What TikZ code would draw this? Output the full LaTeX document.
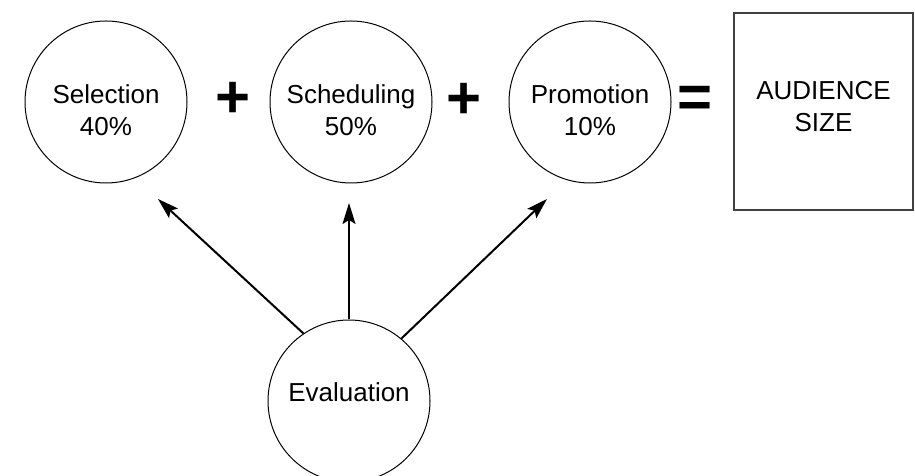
\documentclass[tikz,border=0pt]{standalone}
\usepackage{fontspec}
\setmainfont{Liberation Sans}
\usetikzlibrary{arrows.meta}

\begin{document}
\begin{tikzpicture}[x=1pt,y=1pt]
\tikzstyle{every node}=[font=\fontsize{26}{32}\selectfont, align=center]
\tikzstyle{part}=[circle, draw, line width=1pt, minimum size=162pt, inner sep=0pt]
\tikzstyle{sign}=[font=\fontsize{60}{60}\selectfont\bfseries, inner sep=0pt]
\tikzstyle{push}=[line width=2pt, -{Stealth[length=21pt,width=13pt,inset=4pt]}]
\useasboundingbox (0,0) rectangle (915,476);
\draw (106,374) node (sel) [part, label={[yshift=-8pt]center:Selection\\40\%}] {};
\draw (351,374) node (sch) [part, label={[yshift=-8pt]center:Scheduling\\50\%}] {};
\draw (590,374) node (pro) [part, label={[yshift=-8pt]center:Promotion\\10\%}] {};
\draw (349,75) node (eva) [part, label={[yshift=9pt]center:Evaluation}] {};
\draw (823.5,364.5) node (size) [draw=black!75, line width=2pt, minimum width=179pt, minimum height=197pt,
  label={[yshift=5pt]center:AUDIENCE\\SIZE}] {};
\draw (233,376) node (plusa) [sign] {+};
\draw (464,375) node (plusb) [sign] {+};
\draw (695,374) node (equal) [sign] {=};
% free ends of the arrows
\coordinate (selin) at (158,277);
\coordinate (schin) at (349,273);
\coordinate (proin) at (547,277);
\draw[push] (eva.124) -- (selin);
\draw[push] (eva.north) -- (schin);
\draw[push] (eva.50) -- (proin);
\end{tikzpicture}
\end{document}
